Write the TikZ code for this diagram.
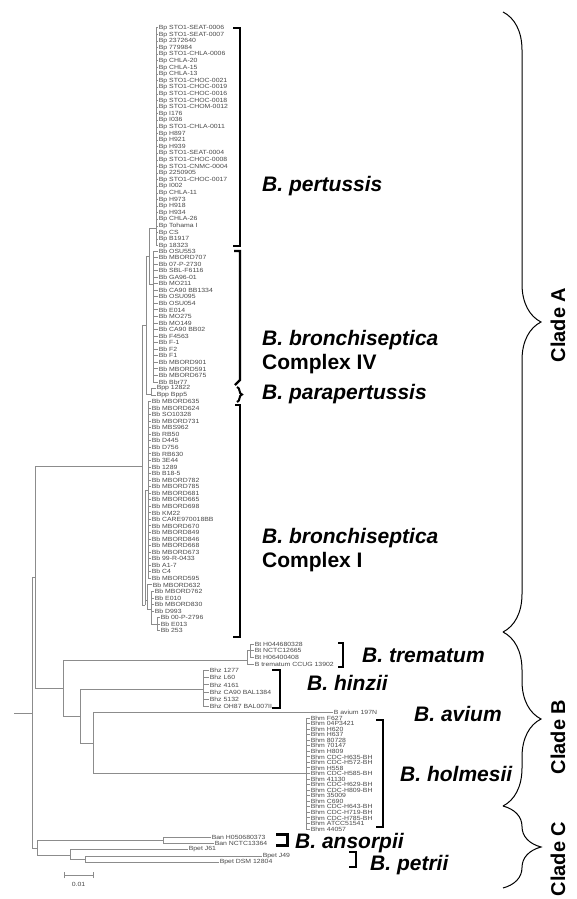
\documentclass[tikz,border=0pt]{standalone}
\usepackage{fontspec}
\setmainfont{Liberation Sans}
\newfontfamily\leaffont[FakeStretch=1.15]{Liberation Sans}
\usetikzlibrary{decorations.pathreplacing}
\definecolor{branchgray}{HTML}{8C8C8C}
\definecolor{tipgray}{HTML}{484848}

\begin{document}
\begin{tikzpicture}[x=1pt,y=-1pt,
  branch/.style={draw=branchgray,line width=1pt},
  leaf/.style={anchor=west,inner sep=0.6pt,text=tipgray,
               font=\leaffont\fontsize{6}{6}\selectfont},
  taxon/.style={anchor=west,inner sep=0pt,font=\bfseries\itshape\fontsize{21}{23}\selectfont},
  cplx/.style={anchor=west,inner sep=0pt,font=\bfseries\fontsize{21}{23}\selectfont},
  clade/.style={rotate=90,inner sep=0pt,font=\bfseries\fontsize{20}{22}\selectfont},
  bracket/.style={draw,line width=2.2pt},
  cladebrace/.style={draw,line width=1pt,decorate,decoration={brace,amplitude=38pt}}]
\useasboundingbox (0,0) rectangle (576,899);

\coordinate (root) at (14,713);
\coordinate (r0) at (32,713);
\coordinate (r1) at (35,577);
\coordinate (cA) at (142,466);
\coordinate (uA) at (146,325);
\coordinate (pb) at (149,256);
\coordinate (bp) at (156,228);
\coordinate (b4) at (153,284);
\coordinate (pp) at (151,394);
\coordinate (b1) at (145,605);
\coordinate (b1c) at (148,490);
\coordinate (s1) at (147,600);
\coordinate (s2) at (151,609);
\coordinate (s3) at (157,624);
\coordinate (cB) at (63,688);
\coordinate (bt) at (247,660);
\coordinate (bt2) at (250,650.5);
\coordinate (hb) at (80,716);
\coordinate (bhz) at (203,689);
\coordinate (ah) at (93,743);
\coordinate (bhm) at (306,773);
\coordinate (cC) at (37,848);
\coordinate (ban) at (163,840);
\coordinate (pe) at (70,855);
\coordinate (pe2) at (85,859);

\draw[branch] (root) -- (r0);
\draw[branch] (r0) |- (r1);
\draw[branch] (r0) |- (cC);
\draw[branch] (r1) |- (cA);
\draw[branch] (r1) |- (cB);
\draw[branch] (cA) |- (uA);
\draw[branch] (cA) |- (b1);
\draw[branch] (uA) |- (pb);
\draw[branch] (uA) |- (pp);
\draw[branch] (pb) |- (bp);
\draw[branch] (pb) |- (b4);
\draw[branch] (b1) |- (b1c);
\draw[branch] (b1) |- (s1);
\draw[branch] (s1) |- (s2);
\draw[branch] (s2) |- (s3);
\draw[branch] (cB) |- (bt);
\draw[branch] (cB) |- (hb);
\draw[branch] (bt) |- (bt2);
\draw[branch] (hb) |- (bhz);
\draw[branch] (hb) |- (ah);
\draw[branch] (ah) |- (bhm);
\draw[branch] (cC) |- (ban);
\draw[branch] (cC) |- (pe);
\draw[branch] (pe) |- (pe2);

\foreach \s [count=\i from 0] in {STO1-SEAT-0006,STO1-SEAT-0007,2372640,779984,STO1-CHLA-0006,
  CHLA-20,CHLA-15,CHLA-13,STO1-CHOC-0021,STO1-CHOC-0019,STO1-CHOC-0016,STO1-CHOC-0018,
  STO1-CHOM-0012,I176,I036,STO1-CHLA-0011,H897,H921,H939,STO1-SEAT-0004,STO1-CHOC-0008,
  STO1-CNMC-0004,2250905,STO1-CHOC-0017,I002,CHLA-11,H973,H918,H934,CHLA-26,Tohama I,CS,
  B1917,18323}{
  \node[leaf] (bp\i) at (158,{28+6.6*\i}) {Bp \s};
  \draw[branch] (bp) |- (bp\i.west);
}
\foreach \s [count=\i from 0] in {OSU553,MBORD707,07-P-2730,SBL-F6116,GA96-01,MO211,
  CA90 BB1334,OSU095,OSU054,E014,MO275,MO149,CA90 BB02,F4563,F-1,F2,F1,MBORD901,
  MBORD591,MBORD675,Bbr77}{
  \node[leaf] (bb\i) at (158,{251+6.55*\i}) {Bb \s};
  \draw[branch] (b4) |- (bb\i.west);
}
\foreach \s [count=\i from 0] in {12822,Bpp5}{
  \node[leaf] (bpp\i) at (156,{388.5+6.5*\i}) {Bpp \s};
  \draw[branch] (pp) |- (bpp\i.west);
}
\foreach \s [count=\i from 0] in {MBORD635,MBORD624,SO10328,MBORD731,MBS962,RB50,D445,
  D756,RB630,3E44,1289,B18-5,MBORD782,MBORD785,MBORD681,MBORD665,MBORD698,KM22,
  CARE970018BB,MBORD670,MBORD849,MBORD846,MBORD668,MBORD673,99-R-0433,A1-7,C4,MBORD595}{
  \node[leaf] (bc\i) at (151,{401.5+6.55*\i}) {Bb \s};
  \draw[branch] (b1c) |- (bc\i.west);
}
\node[leaf] (bs1) at (152,584.9) {Bb MBORD632};
\draw[branch] (s1) |- (bs1.west);
\foreach \s [count=\i from 0] in {MBORD762,E010,MBORD830,D993}{
  \node[leaf] (bs2\i) at (154,{591.45+6.55*\i}) {Bb \s};
  \draw[branch] (s2) |- (bs2\i.west);
}
\foreach \s [count=\i from 0] in {00-P-2796,E013,253}{
  \node[leaf] (bs3\i) at (160,{617.65+6.55*\i}) {Bb \s};
  \draw[branch] (s3) |- (bs3\i.west);
}

\foreach \s [count=\i from 0] in {Bt H044680328,Bt NCTC12665,Bt H06400408}{
  \node[leaf] (tr\i) at (254,{644+6.5*\i}) {\s};
  \draw[branch] (bt2) |- (tr\i.west);
}
\node[leaf] (tr3) at (254,664) {B trematum CCUG 13902};
\draw[branch] (bt) |- (tr3.west);
\foreach \s [count=\i from 0] in {1277,L60,4161,CA90 BAL1384,5132,OH87 BAL007II}{
  \node[leaf] (hz\i) at (209,{670.5+7.2*\i}) {Bhz \s};
  \draw[branch] (bhz) |- (hz\i.west);
}
\node[leaf] (av) at (333,712) {B avium 197N};
\draw[branch] (ah) |- (av.west);
\foreach \s [count=\i from 0] in {F627,04P3421,H620,H637,80728,70147,H809,CDC-H635-BH,
  CDC-H572-BH,H558,CDC-H585-BH,41130,CDC-H629-BH,CDC-H809-BH,35009,C690,CDC-H643-BH,
  CDC-H719-BH,CDC-H785-BH,ATCC51541,44057}{
  \node[leaf] (hm\i) at (310,{718+5.55*\i}) {Bhm \s};
  \draw[branch] (bhm) |- (hm\i.west);
}
\node[leaf] (an0) at (211,837) {Ban H050680373};
\node[leaf] (an1) at (214,843) {Ban NCTC13364};
\draw[branch] (ban) |- (an0.west);
\draw[branch] (ban) |- (an1.west);
\node[leaf] (pt0) at (188,849) {Bpet J61};
\node[leaf] (pt1) at (262,856) {Bpet J49};
\node[leaf] (pt2) at (219,862) {Bpet DSM 12804};
\draw[branch] (pe) |- (pt0.west);
\draw[branch] (pe2) |- (pt1.west);
\draw[branch] (pe2) |- (pt2.west);

\coordinate (sb1) at (64,875);
\coordinate (sb2) at (93,875);
\draw[branch] (sb1) -- (sb2);
\draw[branch] ([yshift=-3pt]sb1) -- ([yshift=3pt]sb1);
\draw[branch] ([yshift=-3pt]sb2) -- ([yshift=3pt]sb2);
\node[leaf,anchor=center] (sblabel) at (78.5,884) {0.01};

\draw[bracket] (233,28) -- (240,28) -- (240,246) -- (233,246);
\draw[bracket] (234,251) -- (240,251) -- (240,380) -- (235,385);
\draw[line width=2pt,decorate,decoration={brace,amplitude=5pt}] (237,387) -- (237,402);
\draw[bracket] (235,405) -- (240,405) -- (240,637) -- (233,637);
\draw[bracket] (338,643) -- (343,643) -- (343,667) -- (338,667);
\draw[bracket] (272,670) -- (280,670) -- (280,708) -- (272,708);
\draw[bracket] (376,720) -- (383,720) -- (383,827) -- (376,827);
\draw[line width=3pt] (276,834) -- (287,834) -- (287,845) -- (276,845);
\draw[bracket] (349,852) -- (356,852) -- (356,867) -- (349,867);

\node[taxon] (pert) at (262,186) {B. pertussis};
\node[taxon] (bronch4) at (262,340) {B. bronchiseptica};
\node[cplx] (cx4) at (262,364) {Complex IV};
\node[taxon] (parap) at (262,394) {B. parapertussis};
\node[taxon] (bronch1) at (262,538) {B. bronchiseptica};
\node[cplx] (cx1) at (262,562) {Complex I};
\node[taxon] (tremat) at (362,655) {B. trematum};
\node[taxon] (hinz) at (307,683) {B. hinzii};
\node[taxon] (avi) at (414,714) {B. avium};
\node[taxon] (holm) at (400,774) {B. holmesii};
\node[taxon] (anso) at (295,843) {B. ansorpii};
\node[taxon] (petr) at (370,865) {B. petrii};

\draw[cladebrace] (503,12) -- (503,632);
\draw[cladebrace] (503,632) -- (503,806);
\draw[cladebrace] (503,806) -- (503,888);
\node[clade] (cladeA) at (558,325) {Clade A};
\node[clade] (cladeB) at (558,737) {Clade B};
\node[clade] (cladeC) at (558,859) {Clade C};
\end{tikzpicture}
\end{document}
